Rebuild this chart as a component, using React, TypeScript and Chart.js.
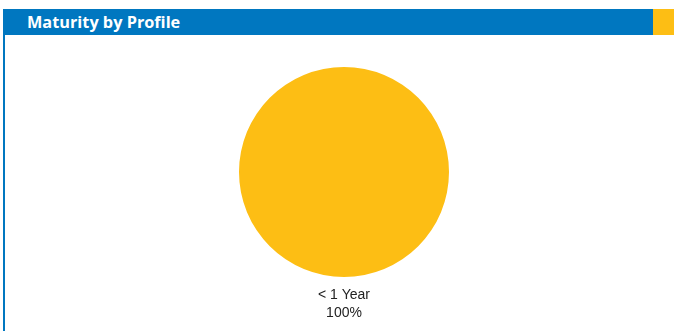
import React, { useEffect, useRef } from "react";
import { Chart, registerables } from "chart.js";

Chart.register(...registerables);

const categories = ["< 1 Year"];
const values = [100];
const percentLabels = ["100%"];
const sliceColors = ["#FDBE14"];

const labelPlugin = {
  id: "belowLabels",
  afterDatasetsDraw(chart: any) {
    const ctx = chart.ctx;
    const meta = chart.getDatasetMeta(0);
    meta.data.forEach((arc: any, i: number) => {
      const props = arc.getProps(["x", "y", "outerRadius"], true);
      ctx.save();
      ctx.fillStyle = "#222222";
      ctx.font = "14px 'Liberation Sans', Arial, sans-serif";
      ctx.textAlign = "center";
      ctx.textBaseline = "alphabetic";
      const y0 = props.y + props.outerRadius;
      ctx.fillText(String(chart.data.labels[i]), props.x, y0 + 22);
      ctx.fillText(percentLabels[i], props.x, y0 + 40);
      ctx.restore();
    });
  },
};

export default function App() {
  const ref = useRef<HTMLCanvasElement | null>(null);
  useEffect(() => {
    document.body.style.margin = "0";
    if (!ref.current) return;
    const chart = new Chart(ref.current, {
      type: "pie",
      data: {
        labels: categories,
        datasets: [
          {
            data: values,
            backgroundColor: sliceColors,
            borderWidth: 0,
          },
        ],
      },
      options: {
        animation: false,
        responsive: false,
        maintainAspectRatio: false,
        layout: { padding: { left: 14, right: 0, top: 32, bottom: 54 } },
        plugins: {
          legend: { display: false },
          tooltip: { enabled: false },
          title: { display: false },
        },
      },
      plugins: [labelPlugin],
    });
    return () => chart.destroy();
  }, []);

  return (
    <div style={{ position: "relative", width: 674, height: 331, background: "#fff", overflow: "hidden" }}>
      <div
        style={{
          position: "absolute",
          left: 3,
          top: 9,
          width: 650,
          height: 26,
          background: "#0077C0",
        }}
      />
      <div
        style={{
          position: "absolute",
          left: 653,
          top: 9,
          width: 21,
          height: 26,
          background: "#FDBE14",
        }}
      />
      <div
        style={{
          position: "absolute",
          left: 27,
          top: 9,
          height: 26,
          lineHeight: "26px",
          color: "#fff",
          fontFamily: "'Open Sans', sans-serif",
          fontWeight: 700,
          fontSize: 16.3,
          whiteSpace: "nowrap",
        }}
      >
        Maturity by Profile
      </div>
      <div
        style={{
          position: "absolute",
          left: 3,
          top: 35,
          width: 2,
          height: 296,
          background: "#0077C0",
        }}
      />
      <canvas
        ref={ref}
        width={674}
        height={296}
        style={{ position: "absolute", left: 0, top: 35, width: 674, height: 296 }}
      />
    </div>
  );
}
